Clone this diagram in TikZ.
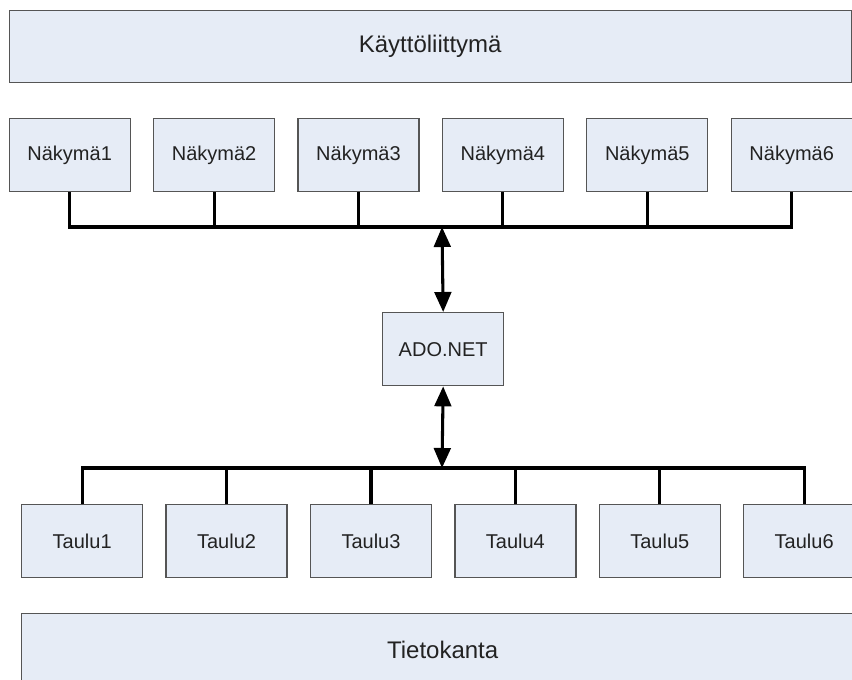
\documentclass[tikz,border=0pt]{standalone}
\usepackage{fontspec}
\setmainfont{Liberation Sans}
\usetikzlibrary{arrows.meta}

\definecolor{boxfill}{HTML}{E6ECF6}
\definecolor{boxline}{HTML}{555555}
\definecolor{labeltext}{HTML}{222222}

\tikzset{
  panel/.style={draw=boxline, fill=boxfill, line width=1pt, inner sep=0pt,
    anchor=north west, text=labeltext},
  layerbar/.style={panel, minimum width=631.5pt, minimum height=54pt,
    font=\fontsize{18}{21}\selectfont},
  itembox/.style={panel, minimum width=90.75pt, minimum height=54.75pt,
    font=\fontsize{15}{18}\selectfont},
  bus/.style={line width=2.3pt, black, line join=miter},
  biarrow/.style={line width=2.3pt, black,
    {Triangle[length=15pt,width=12.5pt]}-{Triangle[length=15pt,width=12.5pt]}},
}

\begin{document}
\begin{tikzpicture}[x=0.75pt, y=-0.75pt]
  \useasboundingbox (0,0) rectangle (852,679);
  \clip (0,0) rectangle (852,679);

  % user interface layer
  \node[layerbar] (ui) at (8.5,10) {Käyttöliittymä};

  % views
  \foreach \i in {1,...,6} {
    \node[itembox] (n\i) at ({8.5+(\i-1)*144.4},118) {Näkymä\i};
  }

  % data access layer
  \node[itembox] (ado) at (382,312) {ADO.NET};

  % tables
  \foreach \i in {1,...,6} {
    \node[itembox] (t\i) at ({21+(\i-1)*144.4},504) {Taulu\i};
  }

  % database layer
  \node[layerbar] (db) at (21,613) {Tietokanta};

  % upper bus joining the views
  \coordinate (ub) at (442,227);
  \draw[bus] (n1.south) |- (ub) -| (n6.south);
  \foreach \i in {2,...,5} {
    \draw[bus] (n\i.south) -- (n\i.south |- ub);
  }

  % lower bus joining the tables
  \coordinate (lb) at (442,468);
  \draw[bus] (t1.north) |- (lb) -| (t6.north);
  \foreach \i in {2,...,5} {
    \draw[bus] (t\i.north) -- (t\i.north |- lb);
  }

  % two-way links through ADO.NET
  \draw[biarrow] (ub) -- (ado.north);
  \draw[biarrow] (ado.south) -- (lb);
\end{tikzpicture}
\end{document}
